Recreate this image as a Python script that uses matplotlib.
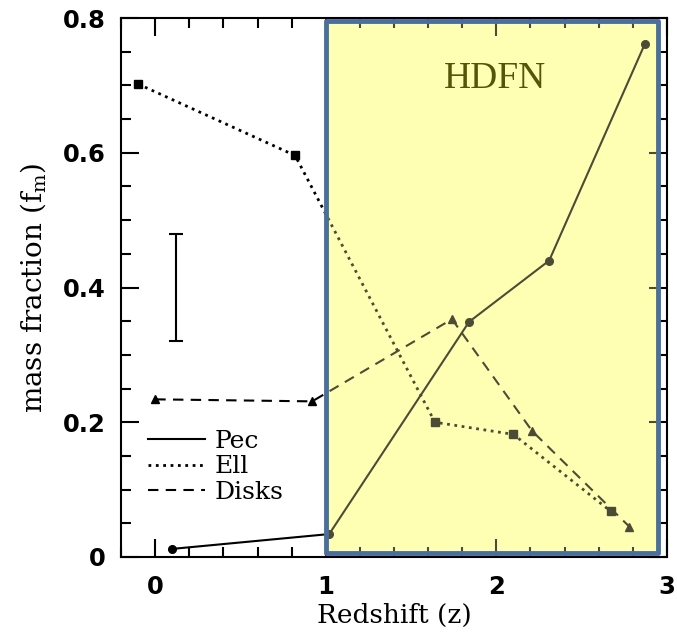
import matplotlib
matplotlib.use("Agg")
import matplotlib.pyplot as plt
from matplotlib.lines import Line2D
from matplotlib.patches import Rectangle
from matplotlib.ticker import MultipleLocator

plt.rcParams.update({
    "font.family": "DejaVu Serif",
    "mathtext.fontset": "dejavuserif",
    "font.size": 16,
})

# redshift / mass fraction
pec_z = [0.10, 1.02, 1.84, 2.31, 2.87]
pec_f = [0.012, 0.034, 0.349, 0.440, 0.761]

ell_z = [-0.10, 0.82, 1.64, 2.10, 2.67]
ell_f = [0.702, 0.596, 0.200, 0.182, 0.068]

disk_z = [0.00, 0.92, 1.74, 2.21, 2.78]
disk_f = [0.234, 0.231, 0.353, 0.187, 0.045]

# typical error bar
err_z = 0.12
err_f = 0.40
err_size = 0.08

# shaded HDFN region
hdfn_z = (1.0, 2.95)
hdfn_f = (0.006, 0.795)

fig = plt.figure(figsize=(6.77, 6.34), dpi=100)
ax = fig.add_axes([0.179, 0.1215, 0.806, 0.850])

yellow = "#ffffb4"
box = dict(xy=(hdfn_z[0], hdfn_f[0]), width=hdfn_z[1] - hdfn_z[0],
           height=hdfn_f[1] - hdfn_f[0])
ax.add_patch(Rectangle(**box, facecolor=yellow, edgecolor="none", zorder=0.5))

ax.plot(pec_z, pec_f, "-", color="black", lw=1.5, marker="o", ms=5.5, zorder=3)
ax.plot(ell_z, ell_f, ":", color="black", lw=2.0, marker="s", ms=5.5, zorder=3)
ax.plot(disk_z, disk_f, color="black", lw=1.5, dashes=(5, 3.5),
        marker="^", ms=5.5, zorder=3)
ax.errorbar([err_z], [err_f], yerr=[err_size], color="black", lw=1.5,
            capsize=5, capthick=1.5, zorder=3)

# tinted overlay so lines inside the box look olive
ax.add_patch(Rectangle(**box, facecolor=yellow, alpha=0.3, edgecolor="none",
                       zorder=5))
ax.add_patch(Rectangle(**box, facecolor="none", edgecolor="#4a6f9c", lw=3.5,
                       joinstyle="round", zorder=6))
ax.text(1.99, 0.71, "HDFN", family="Liberation Serif", fontsize=27,
        color="#55550a", ha="center", va="center", zorder=7)

ax.set_xlim(-0.2, 3.0)
ax.set_ylim(0, 0.8)
ax.xaxis.set_major_locator(MultipleLocator(1))
ax.xaxis.set_minor_locator(MultipleLocator(0.2))
ax.yaxis.set_major_locator(MultipleLocator(0.2))
ax.yaxis.set_minor_locator(MultipleLocator(0.05))
ax.xaxis.set_major_formatter(plt.FuncFormatter(lambda v, p: f"{v:g}"))
ax.yaxis.set_major_formatter(plt.FuncFormatter(lambda v, p: f"{v:g}"))
ax.tick_params(which="both", direction="in", top=True, right=True, width=1.5)
ax.tick_params(which="major", length=13, labelsize=17.5)
ax.tick_params(which="minor", length=7)
ax.tick_params(axis="y", pad=11)
ax.tick_params(axis="x", pad=13)
for lab in ax.get_xticklabels() + ax.get_yticklabels():
    lab.set_family("DejaVu Sans")
    lab.set_fontweight("bold")
for sp in ax.spines.values():
    sp.set_linewidth(1.5)

ax.set_xlabel("Redshift (z)", fontsize=19)
ax.set_ylabel(r"mass fraction (f$_{\rm m}$)", fontsize=20)
ax.xaxis.set_label_coords(0.5, -0.085)
ax.yaxis.set_label_coords(-0.134, 0.5)

handles = [
    Line2D([], [], color="black", ls="-", lw=1.5),
    Line2D([], [], color="black", ls=":", lw=2.0),
    Line2D([], [], color="black", lw=1.5, dashes=(5, 3.5)),
]
ax.legend(handles, ["Pec", "Ell", "Disks"], loc="lower left",
          bbox_to_anchor=(0.03, 0.08), frameon=False, fontsize=18,
          handlelength=2.3, handletextpad=0.4, labelspacing=0.1,
          borderaxespad=0)

fig.savefig("out.png", dpi=100)
